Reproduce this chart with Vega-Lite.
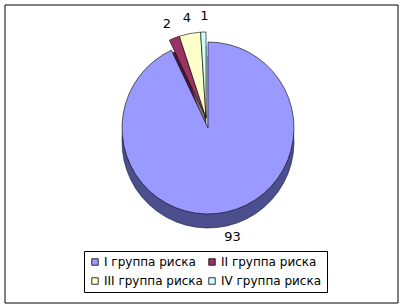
{
  "$schema": "https://vega.github.io/schema/vega-lite/v6.json",
  "width": 393,
  "height": 298,
  "autosize": {"type": "none"},
  "padding": {"left": 5, "top": 5, "right": 6, "bottom": 5},
  "background": "white",
  "config": {"view": {"stroke": "#000", "strokeWidth": 1}},
  "data": {
    "values": [
      {"group": "I группа риска", "value": 93, "order": 1},
      {"group": "II группа риска", "value": 2, "order": 2},
      {"group": "III группа риска", "value": 4, "order": 3},
      {"group": "IV группа риска", "value": 1, "order": 4}
    ]
  },
  "transform": [
    {"stack": "value", "groupby": [], "sort": [{"field": "order"}], "as": ["t0", "t1"]}
  ],
  "layer": [
    {
      "data": {"values": [{}]},
      "mark": {"type": "rect", "fill": null, "stroke": "#000", "strokeWidth": 1},
      "encoding": {}
    },
    {
      "transform": [{"filter": "datum.order == 1"}],
      "mark": {"type": "arc", "radius": 86, "x": 203, "y": 123, "yOffset": 14, "stroke": "#1a1a33", "strokeWidth": 0.6},
      "encoding": {
        "theta": {"field": "t0", "type": "quantitative", "stack": null, "scale": {"domain": [0, 100]}},
        "theta2": {"field": "t1"},
        "fill": {
          "field": "group", "type": "nominal", "legend": null,
          "scale": {
            "domain": ["IV группа риска", "III группа риска", "II группа риска", "I группа риска"],
            "range": ["#668080", "#80806a", "#4d1a33", "#4c4f8e"]
          }
        }
      }
    },
    {
      "transform": [{"filter": "datum.order > 1"}],
      "mark": {"type": "arc", "radius": 86, "x": 203, "y": 123, "xOffset": -2, "yOffset": 4, "stroke": "#1a1a1a", "strokeWidth": 0.6},
      "encoding": {
        "theta": {"field": "t0", "type": "quantitative", "stack": null},
        "theta2": {"field": "t1"},
        "fill": {"field": "group", "type": "nominal", "legend": null}
      }
    },
    {
      "transform": [{"filter": "datum.order > 1"}],
      "mark": {"type": "arc", "radius": 86, "x": 203, "y": 123, "xOffset": -2, "yOffset": -10, "stroke": "#000", "strokeWidth": 0.6},
      "encoding": {
        "theta": {"field": "t0", "type": "quantitative", "stack": null},
        "theta2": {"field": "t1"},
        "color": {
          "field": "group", "type": "nominal",
          "scale": {
            "domain": ["I группа риска", "II группа риска", "III группа риска", "IV группа риска"],
            "range": ["#9999ff", "#993366", "#ffffcc", "#ccffff"]
          },
          "legend": {
            "title": null,
            "orient": "none",
            "direction": "horizontal",
            "legendX": 79,
            "legendY": 246,
            "columns": 2,
            "symbolType": "square",
            "symbolSize": 42,
            "symbolStrokeColor": "#000",
            "symbolStrokeWidth": 0.8,
            "labelFont": "DejaVu Sans",
            "labelFontSize": 12,
            "labelColor": "#000",
            "labelOffset": 3,
            "strokeColor": "#000",
            "padding": 5,
            "rowPadding": 7,
            "columnPadding": 3
          }
        }
      }
    },
    {
      "transform": [{"filter": "datum.order == 1"}],
      "mark": {"type": "arc", "radius": 86, "x": 203, "y": 123, "stroke": "#000", "strokeWidth": 0.6},
      "encoding": {
        "theta": {"field": "t0", "type": "quantitative", "stack": null},
        "theta2": {"field": "t1"},
        "color": {"field": "group", "type": "nominal"}
      }
    },
    {
      "mark": {"type": "text", "radius": 112, "x": 203, "y": 123, "font": "DejaVu Sans", "fontSize": 13, "color": "#000"},
      "encoding": {
        "theta": {"field": "value", "type": "quantitative", "stack": true},
        "order": {"field": "order"},
        "text": {"field": "value", "type": "quantitative"}
      }
    }
  ]
}
